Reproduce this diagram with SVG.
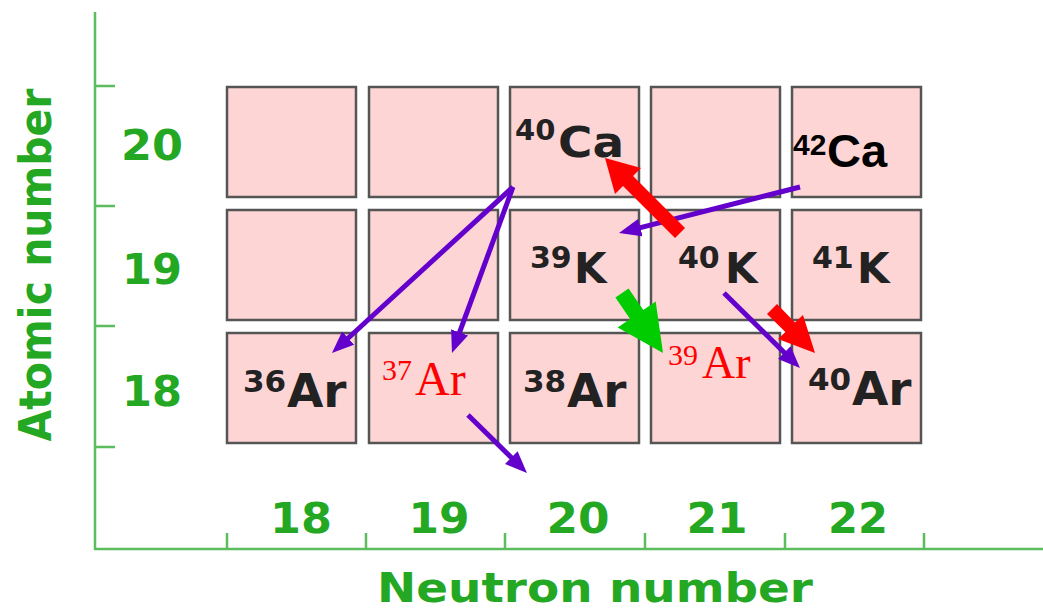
<svg xmlns="http://www.w3.org/2000/svg" width="1043" height="612" viewBox="0 0 1043 612">
<style>
.ax{stroke:#5cbd5c;stroke-width:2.5;fill:none}
.gl{font-family:"DejaVu Sans",Verdana,sans-serif;font-weight:bold;fill:#24a824}
.box{fill:#fdd5d5;stroke:#555;stroke-width:2.5}
.nb{font-family:"DejaVu Sans",Verdana,sans-serif;font-weight:bold;fill:#222}
.rs{font-family:"Liberation Serif","Times New Roman",serif;fill:#ff0000}
.ab{font-family:"Liberation Sans",Arial,sans-serif;font-weight:bold;fill:#000}
.pu{stroke:#6300cc;stroke-width:5;fill:none}
</style>
<defs>
<marker id="ph" markerUnits="userSpaceOnUse" markerWidth="22" markerHeight="18" viewBox="0 0 22 18" refX="8" refY="9" orient="auto">
<path d="M0,0 L22,9 L0,18 z" fill="#6300cc"/>
</marker>
</defs>
<g id="axes">
<path class="ax" d="M95,12 V549 H1043"/>
<path class="ax" d="M95,86 H115 M95,206 H115 M95,326 H115 M95,447 H115"/>
<path class="ax" d="M227,549 V533 M366,549 V533 M505,549 V533 M645,549 V533 M785,549 V533 M924,549 V533"/>
<text class="gl" font-size="44" text-anchor="middle" textLength="353" lengthAdjust="spacingAndGlyphs" transform="translate(51,265) rotate(-90)">Atomic number</text>
<text class="gl" font-size="41" x="377" y="602" textLength="436" lengthAdjust="spacingAndGlyphs">Neutron number</text>
<text class="gl" font-size="42" x="152" y="160" text-anchor="middle" textLength="62" lengthAdjust="spacingAndGlyphs">20</text>
<text class="gl" font-size="42" x="152" y="284" text-anchor="middle" textLength="60" lengthAdjust="spacingAndGlyphs">19</text>
<text class="gl" font-size="42" x="152" y="406" text-anchor="middle" textLength="60" lengthAdjust="spacingAndGlyphs">18</text>
<text class="gl" font-size="42" x="301" y="533" text-anchor="middle" textLength="62" lengthAdjust="spacingAndGlyphs">18</text>
<text class="gl" font-size="42" x="439" y="533" text-anchor="middle" textLength="61" lengthAdjust="spacingAndGlyphs">19</text>
<text class="gl" font-size="42" x="578" y="533" text-anchor="middle" textLength="63" lengthAdjust="spacingAndGlyphs">20</text>
<text class="gl" font-size="42" x="717" y="533" text-anchor="middle" textLength="61" lengthAdjust="spacingAndGlyphs">21</text>
<text class="gl" font-size="42" x="858" y="533" text-anchor="middle" textLength="60" lengthAdjust="spacingAndGlyphs">22</text>
</g>
<g id="r1c1"><rect class="box" x="227" y="87" width="129" height="110"/></g>
<g id="r1c2"><rect class="box" x="369" y="87" width="129" height="110"/></g>
<g id="ca40"><rect class="box" x="510" y="87" width="129" height="110"/>
<text class="nb" font-size="29" x="515" y="140">40</text><text class="nb" font-size="42" x="558" y="157" textLength="66" lengthAdjust="spacingAndGlyphs">Ca</text></g>
<g id="r1c4"><rect class="box" x="651" y="87" width="129" height="110"/></g>
<g id="ca42"><rect class="box" x="792" y="87" width="129" height="110"/>
<text class="ab" font-size="30" x="793" y="155">42</text><text class="ab" font-size="47" x="827" y="167">Ca</text></g>
<g id="r2c1"><rect class="box" x="227" y="210" width="129" height="110"/></g>
<g id="r2c2"><rect class="box" x="369" y="210" width="129" height="110"/></g>
<g id="k39"><rect class="box" x="510" y="210" width="129" height="110"/>
<text class="nb" font-size="30" x="530" y="268">39</text><text class="nb" font-size="42" x="574" y="283">K</text></g>
<g id="k40"><rect class="box" x="651" y="210" width="129" height="110"/>
<text class="nb" font-size="30" x="678" y="268">40</text><text class="nb" font-size="42" x="725" y="283">K</text></g>
<g id="k41"><rect class="box" x="792" y="210" width="129" height="110"/>
<text class="nb" font-size="30" x="812" y="268">41</text><text class="nb" font-size="42" x="857" y="283">K</text></g>
<g id="ar36"><rect class="box" x="227" y="333" width="129" height="110"/>
<text class="nb" font-size="31" x="243" y="392">36</text><text class="nb" font-size="47" x="287" y="407">Ar</text></g>
<g id="ar37"><rect class="box" x="369" y="333" width="129" height="110"/>
<text class="rs" font-size="30" x="382" y="380">37</text><text class="rs" font-size="48" x="415" y="395">Ar</text></g>
<g id="ar38"><rect class="box" x="510" y="333" width="129" height="110"/>
<text class="nb" font-size="31" x="523" y="392">38</text><text class="nb" font-size="47" x="567" y="407">Ar</text></g>
<g id="ar39"><rect class="box" x="651" y="333" width="129" height="110"/>
<text class="rs" font-size="30" x="668" y="365">39</text><text class="rs" font-size="46" x="702" y="378">Ar</text></g>
<g id="ar40"><rect class="box" x="792" y="333" width="129" height="110"/>
<text class="nb" font-size="31" x="808" y="390">40</text><text class="nb" font-size="47" x="852" y="405">Ar</text></g>
<g id="connectors">
<path class="pu" d="M513,187 L342.3,343.5" marker-end="url(#ph)"/>
<path class="pu" d="M513,187 L456.8,339.9" marker-end="url(#ph)"/>
<path class="pu" d="M800,187 L632.6,229.6" marker-end="url(#ph)"/>
<path class="pu" d="M724,293 L790,358.2" marker-end="url(#ph)"/>
<path class="pu" d="M468,415 L517,463.2" marker-end="url(#ph)"/>
<polygon fill="#ff0000" points="685,228 633,176 641,168 605,158 615,194 623,186 675,238"/>
<polygon fill="#ff0000" points="777,304 795,322.5 803,315 815,353 778,339 785.4,332 767,314"/>
<polygon fill="#00cc00" points="628.6,288.5 643.3,310.1 655.7,301.6 663,353 617.7,327.6 630.1,319.1 615.4,297.5"/>
</g>
</svg>
